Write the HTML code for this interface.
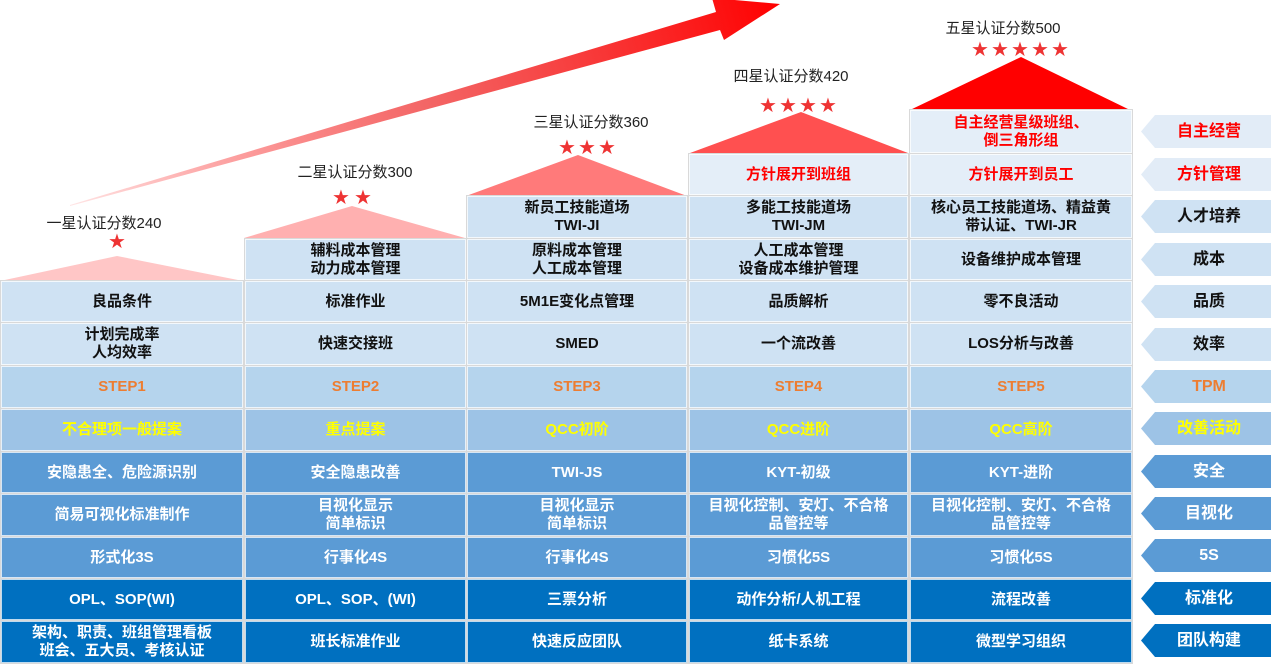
<!DOCTYPE html>
<html><head><meta charset="utf-8"><style>
body{margin:0;width:1275px;height:664px;background:#fff;position:relative;overflow:hidden;font-family:"Liberation Sans","Noto Sans CJK SC",sans-serif}
.c{position:absolute;box-sizing:border-box;border:1px solid rgba(255,255,255,.75);outline:1px solid #d9d9d9;display:flex;align-items:center;justify-content:center;text-align:center;font-weight:bold;font-size:15px;line-height:18px}
.t{position:absolute;display:flex;align-items:center;justify-content:center;font-weight:bold;font-size:16px;line-height:1;left:1141px;width:130px;height:33px;clip-path:polygon(0 50%,14px 0,100% 0,100% 100%,14px 100%);padding-left:6px;box-sizing:border-box}
.lb{position:absolute;font-size:15px;color:#222;white-space:nowrap;transform:translateX(-50%)}
.L{background:#e4eef8;color:#f00}
.A{background:#cfe2f3;color:#111}
.B{background:#b5d4ed;color:#ed7d31}
.C{background:#9dc3e6;color:#ffff00}
.D{background:#5b9bd5;color:#fff}
.E{background:#0070c0;color:#fff}
</style></head><body>
<svg width="1275" height="664" style="position:absolute;left:0;top:0">
<defs>
<linearGradient id="ag" x1="70" y1="205" x2="780" y2="4" gradientUnits="userSpaceOnUse"><stop offset="0" stop-color="#ff0000" stop-opacity="0.1"/><stop offset="0.5" stop-color="#f04040" stop-opacity="0.8"/><stop offset="1" stop-color="#ff0000"/></linearGradient>
</defs>
<polygon points="70,205 716,12 712,-2 780,4 724,40 720,30 70,206" fill="url(#ag)"/>
<polygon points="0,281 117,256 243,281" fill="#ffc6c6"/>
<polygon points="244,238 352,206 465,238" fill="#ffb0b0"/>
<polygon points="466,196 578,155 687,196" fill="#ff7a7a"/>
<polygon points="690,153 801,112 908,153" fill="#ff5050"/>
<polygon points="910,110 1021,57 1130,110" fill="#ff0000"/>
<g fill="#e33" font-size="20" text-anchor="middle" font-family="DejaVu Sans">
<text x="117" y="248">★</text>
<text x="341" y="204">★</text><text x="363" y="204">★</text>
<text x="567" y="154">★</text><text x="587" y="154">★</text><text x="607" y="154">★</text>
<text x="768" y="112">★</text><text x="788" y="112">★</text><text x="808" y="112">★</text><text x="828" y="112">★</text>
<text x="980" y="56">★</text><text x="1000" y="56">★</text><text x="1020" y="56">★</text><text x="1040" y="56">★</text><text x="1060" y="56">★</text>
</g>
</svg>
<div class="lb" style="left:104px;top:212px">一星认证分数240</div>
<div class="lb" style="left:355px;top:161px">二星认证分数300</div>
<div class="lb" style="left:591px;top:111px">三星认证分数360</div>
<div class="lb" style="left:791px;top:65px">四星认证分数420</div>
<div class="lb" style="left:1003px;top:17px">五星认证分数500</div>

<div class="c L" style="left:910px;top:110px;width:222px;height:43px">自主经营星级班组、<br>倒三角形组</div>
<div class="c L" style="left:689px;top:154px;width:219px;height:41px">方针展开到班组</div>
<div class="c L" style="left:910px;top:154px;width:222px;height:41px">方针展开到员工</div>
<div class="c A" style="left:467px;top:196px;width:220px;height:42px">新员工技能道场<br>TWI-JI</div>
<div class="c A" style="left:689px;top:196px;width:219px;height:42px">多能工技能道场<br>TWI-JM</div>
<div class="c A" style="left:910px;top:196px;width:222px;height:42px">核心员工技能道场、精益黄<br>带认证、TWI-JR</div>
<div class="c A" style="left:245px;top:239px;width:221px;height:41px">辅料成本管理<br>动力成本管理</div>
<div class="c A" style="left:467px;top:239px;width:220px;height:41px">原料成本管理<br>人工成本管理</div>
<div class="c A" style="left:689px;top:239px;width:219px;height:41px">人工成本管理<br>设备成本维护管理</div>
<div class="c A" style="left:910px;top:239px;width:222px;height:41px">设备维护成本管理</div>
<div class="c A" style="left:1px;top:281px;width:242px;height:41px">良品条件</div>
<div class="c A" style="left:245px;top:281px;width:221px;height:41px">标准作业</div>
<div class="c A" style="left:467px;top:281px;width:220px;height:41px">5M1E变化点管理</div>
<div class="c A" style="left:689px;top:281px;width:219px;height:41px">品质解析</div>
<div class="c A" style="left:910px;top:281px;width:222px;height:41px">零不良活动</div>
<div class="c A" style="left:1px;top:323px;width:242px;height:42px">计划完成率<br>人均效率</div>
<div class="c A" style="left:245px;top:323px;width:221px;height:42px">快速交接班</div>
<div class="c A" style="left:467px;top:323px;width:220px;height:42px">SMED</div>
<div class="c A" style="left:689px;top:323px;width:219px;height:42px">一个流改善</div>
<div class="c A" style="left:910px;top:323px;width:222px;height:42px">LOS分析与改善</div>
<div class="c B" style="left:1px;top:366px;width:242px;height:42px">STEP1</div>
<div class="c B" style="left:245px;top:366px;width:221px;height:42px">STEP2</div>
<div class="c B" style="left:467px;top:366px;width:220px;height:42px">STEP3</div>
<div class="c B" style="left:689px;top:366px;width:219px;height:42px">STEP4</div>
<div class="c B" style="left:910px;top:366px;width:222px;height:42px">STEP5</div>
<div class="c C" style="left:1px;top:409px;width:242px;height:42px">不合理项一般提案</div>
<div class="c C" style="left:245px;top:409px;width:221px;height:42px">重点提案</div>
<div class="c C" style="left:467px;top:409px;width:220px;height:42px">QCC初阶</div>
<div class="c C" style="left:689px;top:409px;width:219px;height:42px">QCC进阶</div>
<div class="c C" style="left:910px;top:409px;width:222px;height:42px">QCC高阶</div>
<div class="c D" style="left:1px;top:452px;width:242px;height:41px">安隐患全、危险源识别</div>
<div class="c D" style="left:245px;top:452px;width:221px;height:41px">安全隐患改善</div>
<div class="c D" style="left:467px;top:452px;width:220px;height:41px">TWI-JS</div>
<div class="c D" style="left:689px;top:452px;width:219px;height:41px">KYT-初级</div>
<div class="c D" style="left:910px;top:452px;width:222px;height:41px">KYT-进阶</div>
<div class="c D" style="left:1px;top:494px;width:242px;height:42px">简易可视化标准制作</div>
<div class="c D" style="left:245px;top:494px;width:221px;height:42px">目视化显示<br>简单标识</div>
<div class="c D" style="left:467px;top:494px;width:220px;height:42px">目视化显示<br>简单标识</div>
<div class="c D" style="left:689px;top:494px;width:219px;height:42px">目视化控制、安灯、不合格<br>品管控等</div>
<div class="c D" style="left:910px;top:494px;width:222px;height:42px">目视化控制、安灯、不合格<br>品管控等</div>
<div class="c D" style="left:1px;top:537px;width:242px;height:41px">形式化3S</div>
<div class="c D" style="left:245px;top:537px;width:221px;height:41px">行事化4S</div>
<div class="c D" style="left:467px;top:537px;width:220px;height:41px">行事化4S</div>
<div class="c D" style="left:689px;top:537px;width:219px;height:41px">习惯化5S</div>
<div class="c D" style="left:910px;top:537px;width:222px;height:41px">习惯化5S</div>
<div class="c E" style="left:1px;top:579px;width:242px;height:41px">OPL、SOP(WI)</div>
<div class="c E" style="left:245px;top:579px;width:221px;height:41px">OPL、SOP、(WI)</div>
<div class="c E" style="left:467px;top:579px;width:220px;height:41px">三票分析</div>
<div class="c E" style="left:689px;top:579px;width:219px;height:41px">动作分析/人机工程</div>
<div class="c E" style="left:910px;top:579px;width:222px;height:41px">流程改善</div>
<div class="c E" style="left:1px;top:621px;width:242px;height:42px">架构、职责、班组管理看板<br>班会、五大员、考核认证</div>
<div class="c E" style="left:245px;top:621px;width:221px;height:42px">班长标准作业</div>
<div class="c E" style="left:467px;top:621px;width:220px;height:42px">快速反应团队</div>
<div class="c E" style="left:689px;top:621px;width:219px;height:42px">纸卡系统</div>
<div class="c E" style="left:910px;top:621px;width:222px;height:42px">微型学习组织</div>

<div class="t L" style="top:115px;background:#e2ecf7">自主经营</div>
<div class="t L" style="top:158px;background:#e2ecf7">方针管理</div>
<div class="t A" style="top:200px">人才培养</div>
<div class="t A" style="top:243px">成本</div>
<div class="t A" style="top:285px">品质</div>
<div class="t A" style="top:328px">效率</div>
<div class="t B" style="top:370px">TPM</div>
<div class="t C" style="top:412px">改善活动</div>
<div class="t D" style="top:455px">安全</div>
<div class="t D" style="top:497px">目视化</div>
<div class="t D" style="top:539px">5S</div>
<div class="t E" style="top:582px">标准化</div>
<div class="t E" style="top:624px">团队构建</div>
</body></html>
